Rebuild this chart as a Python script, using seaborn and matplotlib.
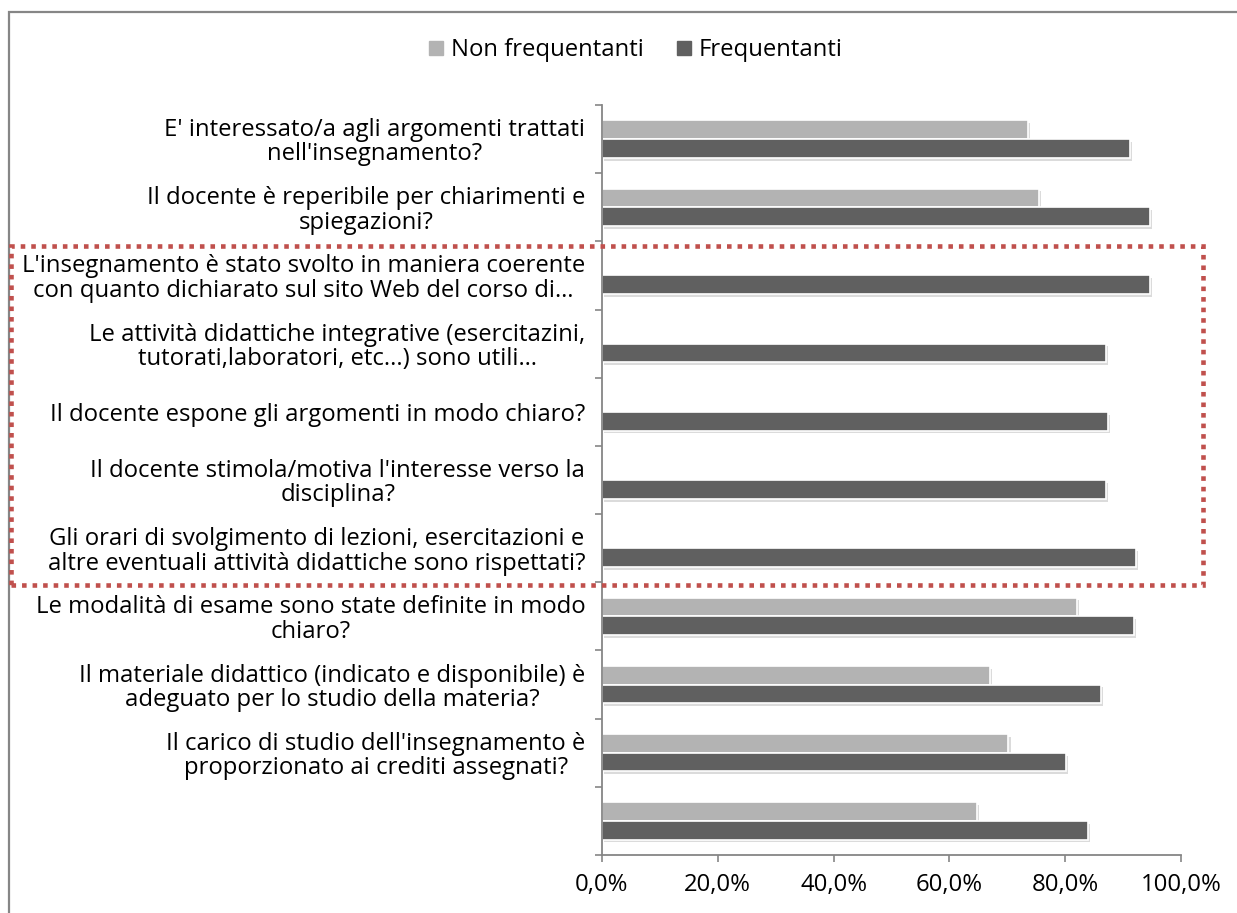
import seaborn as sns
import pandas as pd
import matplotlib.pyplot as plt
import matplotlib.patheffects as pe
from matplotlib.patches import Rectangle
from matplotlib.lines import Line2D

# data
domande = [
    "E' interessato/a agli argomenti trattati\nnell'insegnamento?",
    "Il docente è reperibile per chiarimenti e\nspiegazioni?",
    "L'insegnamento è stato svolto in maniera coerente\ncon quanto dichiarato sul sito Web del corso di…",
    "Le attività didattiche integrative (esercitazini,\ntutorati,laboratori, etc...) sono utili…",
    "Il docente espone gli argomenti in modo chiaro?",
    "Il docente stimola/motiva l'interesse verso la\ndisciplina?",
    "Gli orari di svolgimento di lezioni, esercitazioni e\naltre eventuali attività didattiche sono rispettati?",
    "Le modalità di esame sono state definite in modo\nchiaro?",
    "Il materiale didattico (indicato e disponibile) è\nadeguato per lo studio della materia?",
    "Il carico di studio dell'insegnamento è\nproporzionato ai crediti assegnati?",
    "",
]
non_frequentanti = [73.5, 75.4, None, None, None, None, None, 82.0, 67.0, 70.2, 64.8]
frequentanti = [91.2, 94.6, 94.6, 87.0, 87.4, 87.1, 92.2, 91.8, 86.2, 80.2, 83.9]
serie = ["Non frequentanti", "Frequentanti"]
colori = ["#b3b3b3", "#606060"]
xticks = [0, 20, 40, 60, 80, 100]

keys = ["q%d" % i for i in range(len(domande))]
df = pd.concat([
    pd.DataFrame({"q": keys, "val": non_frequentanti, "serie": serie[0]}),
    pd.DataFrame({"q": keys, "val": frequentanti, "serie": serie[1]}),
]).dropna()

sns.set_style("white")
plt.rcParams['font.family'] = ['Open Sans', 'DejaVu Sans']
plt.rcParams['text.color'] = 'black'
plt.rcParams['xtick.labelcolor'] = 'black'
plt.rcParams['ytick.labelcolor'] = 'black'
grigio = "#868686"
fs = 17.2

fig = plt.figure(figsize=(12.37, 9.13), dpi=100)
ax = fig.add_axes([602/1237, 1-855/913, (1181-602)/1237, (855-105)/913])

sns.barplot(data=df, y="q", x="val", hue="serie", order=keys, hue_order=serie,
            palette=colori, orient="h", width=0.55, errorbar=None,
            edgecolor="white", linewidth=1.2, legend=False, ax=ax)

for p in ax.patches:
    p.set_path_effects([pe.SimplePatchShadow(offset=(1.5, -2), shadow_rgbFace="#999999", alpha=0.35),
                        pe.Normal()])

ax.set_xlim(0, 100)
ax.set_ylim(len(keys)-0.5, -0.5)
ax.set_xticks(xticks)
ax.set_xticklabels(["%d,0%%" % v for v in xticks], fontsize=fs)
ax.set_yticks(range(len(keys)))
ax.set_yticklabels(domande, fontsize=fs, ha="right", multialignment="center", linespacing=1.02)
ax.set_yticks([i-0.5 for i in range(len(keys)+1)], minor=True)
ax.tick_params(axis="y", which="major", length=0, pad=12)
ax.tick_params(axis="y", which="minor", length=5, width=1.2, color=grigio, direction="out", left=True)
ax.tick_params(axis="x", length=5, width=1.2, color=grigio, direction="out", bottom=True, pad=8)
ax.set_xlabel("")
ax.set_ylabel("")
sns.despine(ax=ax)
for s in ["left", "bottom"]:
    ax.spines[s].set_color(grigio)
    ax.spines[s].set_linewidth(1.3)

handles = [Line2D([], [], marker="s", ls="", markersize=9.5, color=c) for c in colori]
fig.legend(handles, serie, loc="center", bbox_to_anchor=(0.513, 1-50/913), ncol=2,
           frameon=False, fontsize=fs, handlelength=0.8, handletextpad=0.2, columnspacing=1.3)

# cornice del grafico
fig.add_artist(Rectangle((9/1237, -0.05), 1.1, 1.05-12/913, transform=fig.transFigure,
                         fill=False, ec=grigio, lw=1.6))
# riquadro rosso tratteggiato
fig.add_artist(Rectangle((11/1237, 1-585/913), (1203-11)/1237, (585-246)/913,
                         transform=fig.transFigure, fill=False, ec="#c0504d",
                         lw=3.3, ls=(0, (1, 1.3)), zorder=10))

fig.savefig("out.png", dpi=100)
